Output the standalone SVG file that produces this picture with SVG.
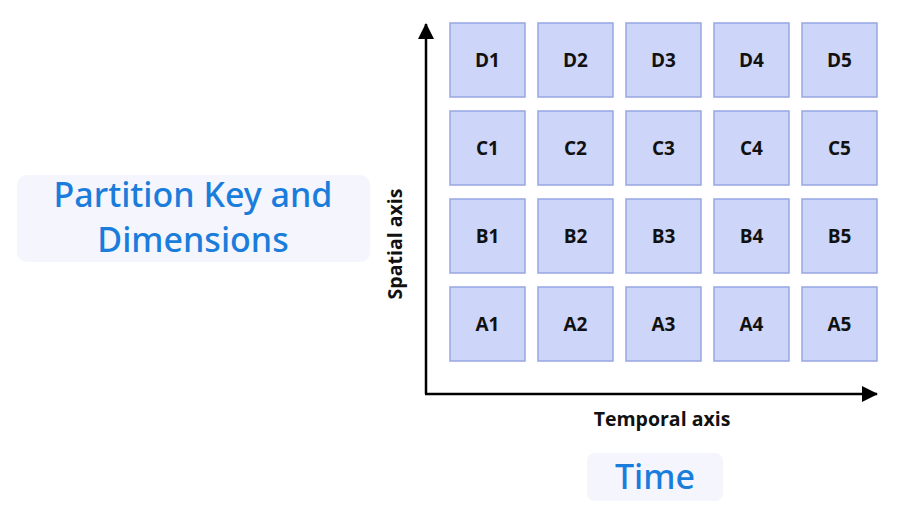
<svg xmlns="http://www.w3.org/2000/svg" width="910" height="528" viewBox="0 0 910 528">
<defs>
<style>
.cell rect{fill:#cdd5f8;stroke:#97a6e6;stroke-width:1.5}
.cell text{font-family:"Open Sans","Noto Sans",sans-serif;font-weight:700;font-size:19px;fill:#111;text-anchor:middle}
.axis{stroke:#000;stroke-width:2.5;fill:none}
.axlabel{font-family:"Open Sans","Noto Sans",sans-serif;font-weight:700;font-size:19.5px;fill:#111;text-anchor:middle}
.title rect{fill:#f4f5fd}
.title text{font-family:"Noto Sans","Open Sans",sans-serif;font-weight:500;font-size:34px;fill:#1a7ddb;text-anchor:middle}
</style>
<marker id="arrow" viewBox="0 0 16 16" refX="15" refY="8" markerWidth="16" markerHeight="16" markerUnits="userSpaceOnUse" orient="auto">
<path d="M0,0 L16,8 L0,16 z" fill="#000"/>
</marker>
</defs>
<rect width="910" height="528" fill="#fff"/>

<g id="title-partition" class="title">
<rect x="17" y="175" width="353" height="87" rx="10"/>
<text x="193" y="207">Partition Key and</text>
<text x="193" y="252">Dimensions</text>
</g>

<g id="title-time" class="title">
<rect x="587" y="453" width="136" height="48" rx="8"/>
<text x="655" y="489">Time</text>
</g>

<g id="connectors">
<path class="axis" d="M426,394 V24" marker-end="url(#arrow)"/>
<path class="axis" d="M425,394 H877" marker-end="url(#arrow)"/>
</g>

<text class="axlabel" x="662" y="426">Temporal axis</text>
<text class="axlabel" transform="translate(402,244) rotate(-90)">Spatial axis</text>

<g id="D1" class="cell"><rect x="450" y="23" width="75" height="74"/><text x="487.5" y="67">D1</text></g>
<g id="D2" class="cell"><rect x="538" y="23" width="75" height="74"/><text x="575.5" y="67">D2</text></g>
<g id="D3" class="cell"><rect x="626" y="23" width="75" height="74"/><text x="663.5" y="67">D3</text></g>
<g id="D4" class="cell"><rect x="714" y="23" width="75" height="74"/><text x="751.5" y="67">D4</text></g>
<g id="D5" class="cell"><rect x="802" y="23" width="75" height="74"/><text x="839.5" y="67">D5</text></g>

<g id="C1" class="cell"><rect x="450" y="111" width="75" height="74"/><text x="487.5" y="155">C1</text></g>
<g id="C2" class="cell"><rect x="538" y="111" width="75" height="74"/><text x="575.5" y="155">C2</text></g>
<g id="C3" class="cell"><rect x="626" y="111" width="75" height="74"/><text x="663.5" y="155">C3</text></g>
<g id="C4" class="cell"><rect x="714" y="111" width="75" height="74"/><text x="751.5" y="155">C4</text></g>
<g id="C5" class="cell"><rect x="802" y="111" width="75" height="74"/><text x="839.5" y="155">C5</text></g>

<g id="B1" class="cell"><rect x="450" y="199" width="75" height="74"/><text x="487.5" y="243">B1</text></g>
<g id="B2" class="cell"><rect x="538" y="199" width="75" height="74"/><text x="575.5" y="243">B2</text></g>
<g id="B3" class="cell"><rect x="626" y="199" width="75" height="74"/><text x="663.5" y="243">B3</text></g>
<g id="B4" class="cell"><rect x="714" y="199" width="75" height="74"/><text x="751.5" y="243">B4</text></g>
<g id="B5" class="cell"><rect x="802" y="199" width="75" height="74"/><text x="839.5" y="243">B5</text></g>

<g id="A1" class="cell"><rect x="450" y="287" width="75" height="74"/><text x="487.5" y="331">A1</text></g>
<g id="A2" class="cell"><rect x="538" y="287" width="75" height="74"/><text x="575.5" y="331">A2</text></g>
<g id="A3" class="cell"><rect x="626" y="287" width="75" height="74"/><text x="663.5" y="331">A3</text></g>
<g id="A4" class="cell"><rect x="714" y="287" width="75" height="74"/><text x="751.5" y="331">A4</text></g>
<g id="A5" class="cell"><rect x="802" y="287" width="75" height="74"/><text x="839.5" y="331">A5</text></g>
</svg>
